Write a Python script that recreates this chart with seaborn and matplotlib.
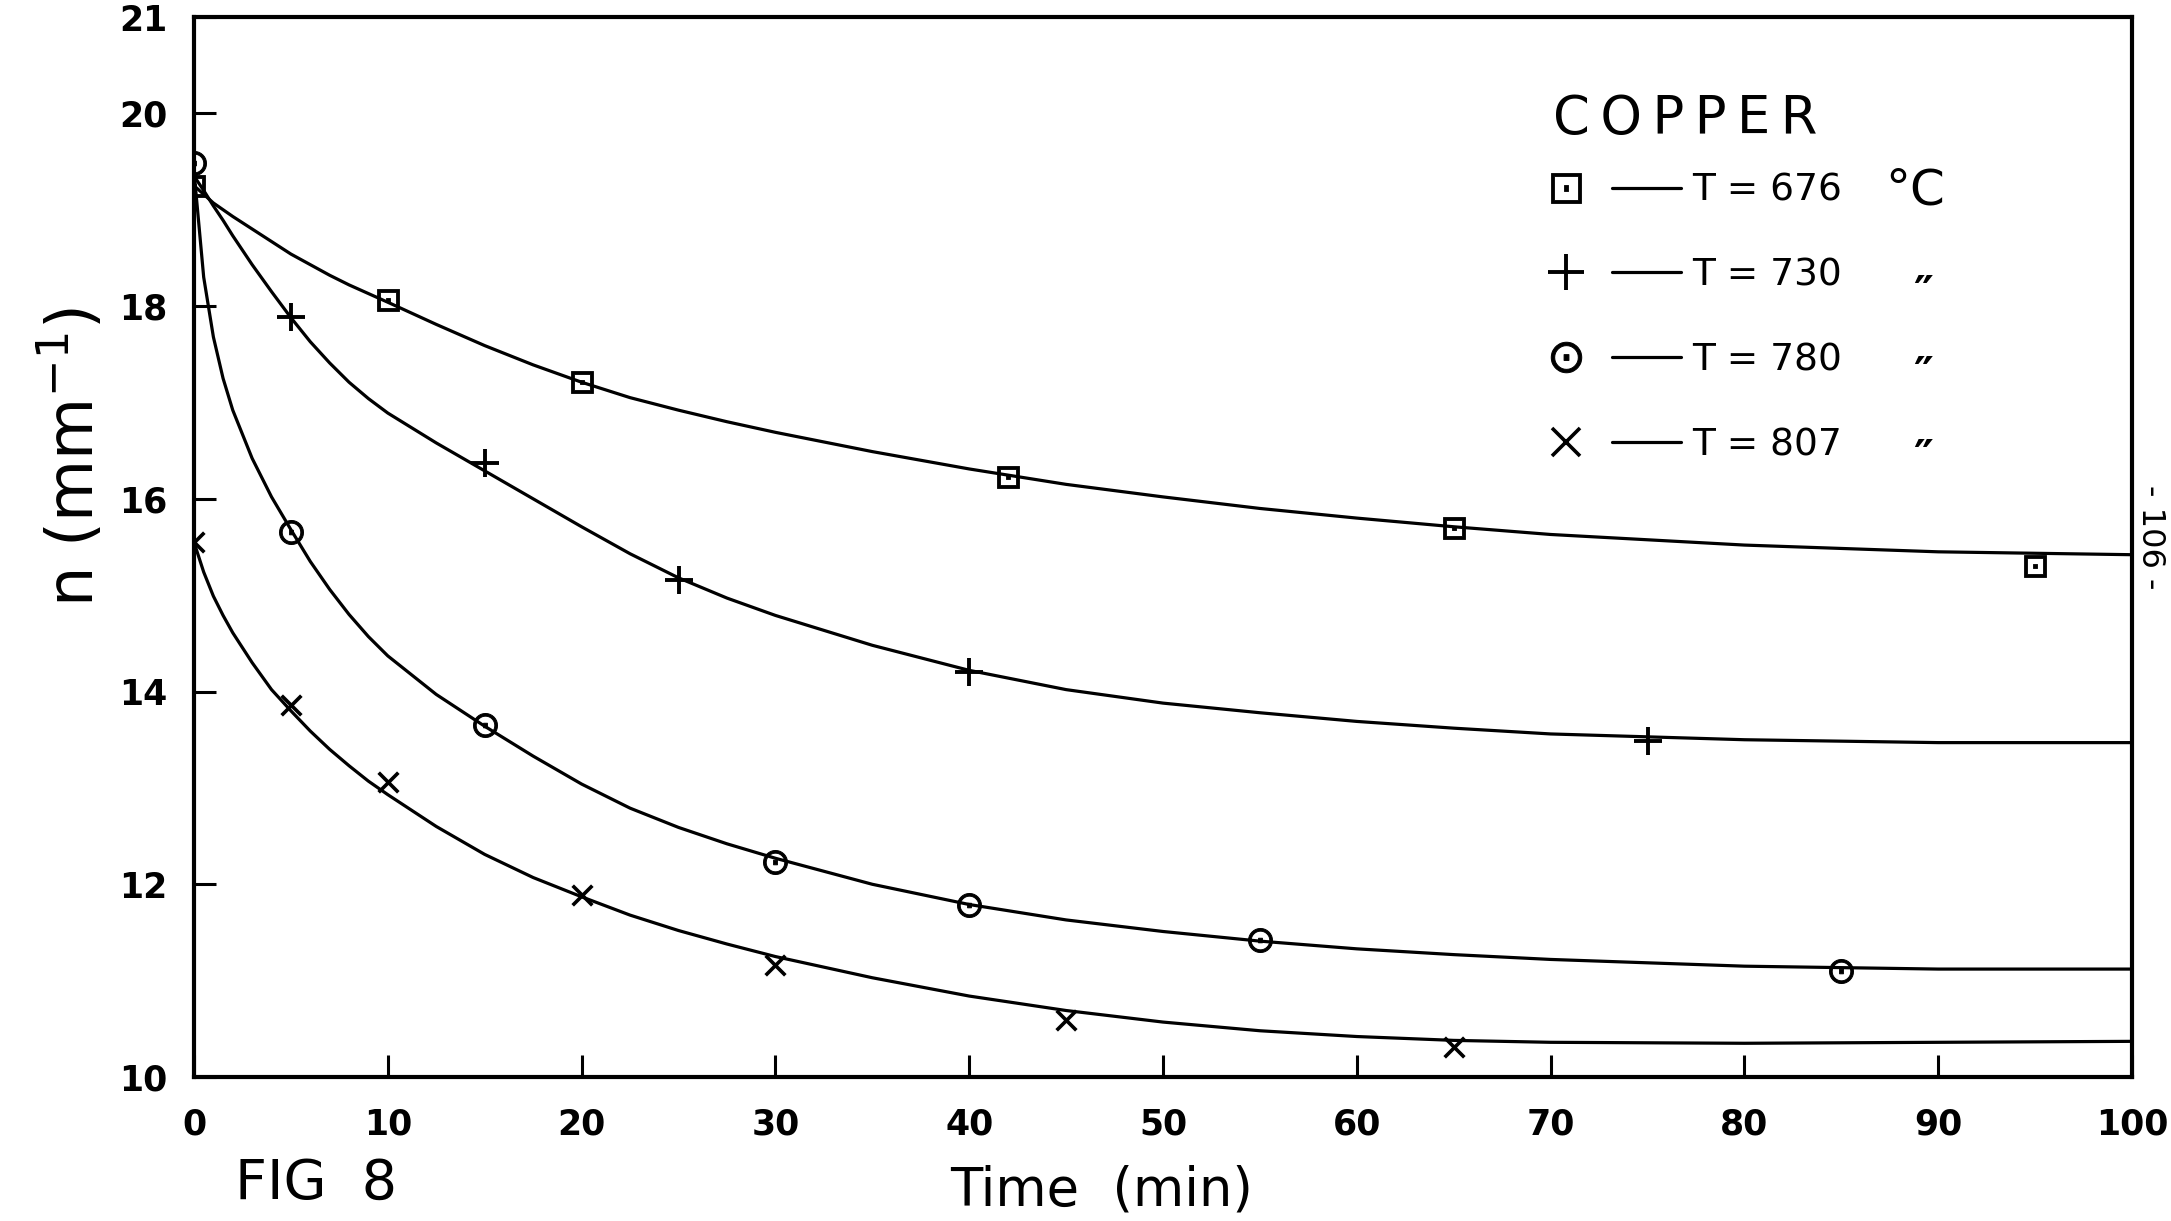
import matplotlib
matplotlib.use("Agg")
import matplotlib.pyplot as plt
import seaborn as sns
from matplotlib.lines import Line2D
from matplotlib.legend_handler import HandlerTuple

# Measured grain-size data (n in mm^-1) against annealing time (min)
time_676 = [0, 10, 20, 42, 65, 95]
n_676 = [19.25, 18.06, 17.21, 16.23, 15.70, 15.30]

time_730 = [5, 15, 25, 40, 75]
n_730 = [17.89, 16.37, 15.16, 14.20, 13.49]

time_780 = [0, 5, 15, 30, 40, 55, 85]
n_780 = [19.48, 15.66, 13.65, 12.23, 11.78, 11.42, 11.10]

time_807 = [0, 5, 10, 20, 30, 45, 65]
n_807 = [15.55, 13.86, 13.06, 11.89, 11.16, 10.59, 10.31]

# Hand-fitted curves, read at these times
curve_time = [0, 0.5, 1, 1.5, 2, 3, 4, 5, 6, 7, 8, 9, 10, 12.5, 15, 17.5, 20,
              22.5, 25, 27.5, 30, 35, 40, 45, 50, 55, 60, 65, 70, 80, 90, 100]
curve_676 = [19.25, 19.16, 19.07, 19.00, 18.93, 18.80, 18.67, 18.54, 18.43,
             18.32, 18.22, 18.13, 18.04, 17.81, 17.59, 17.39, 17.21, 17.05,
             16.92, 16.80, 16.69, 16.49, 16.31, 16.15, 16.02, 15.90, 15.80,
             15.71, 15.63, 15.52, 15.45, 15.42]
curve_730 = [19.35, 19.20, 19.04, 18.89, 18.73, 18.43, 18.15, 17.88, 17.63,
             17.41, 17.21, 17.04, 16.89, 16.58, 16.29, 16.00, 15.71, 15.43,
             15.18, 14.97, 14.79, 14.48, 14.22, 14.02, 13.88, 13.78, 13.69,
             13.62, 13.56, 13.50, 13.47, 13.47]
curve_780 = [19.40, 18.30, 17.68, 17.25, 16.92, 16.42, 16.02, 15.68, 15.35,
             15.06, 14.80, 14.57, 14.37, 13.97, 13.64, 13.33, 13.04, 12.79,
             12.59, 12.42, 12.27, 12.00, 11.79, 11.63, 11.51, 11.41, 11.33,
             11.27, 11.22, 11.15, 11.12, 11.12]
curve_807 = [15.55, 15.24, 14.99, 14.79, 14.61, 14.30, 14.02, 13.80, 13.59,
             13.40, 13.23, 13.07, 12.93, 12.60, 12.31, 12.07, 11.87, 11.68,
             11.52, 11.38, 11.25, 11.03, 10.84, 10.69, 10.57, 10.48, 10.42,
             10.38, 10.36, 10.35, 10.36, 10.37]

temperatures = ["676", "730", "780", "807"]
x_ticks = [0, 10, 20, 30, 40, 50, 60, 70, 80, 90, 100]
y_ticks = [10, 12, 14, 16, 18, 20, 21]

sns.set_theme(style="ticks", rc={
    "axes.edgecolor": "black", "xtick.color": "black", "ytick.color": "black",
    "text.color": "black", "axes.labelcolor": "black",
})
plt.rcParams["font.family"] = ["DejaVu Sans"]
plt.rcParams["mathtext.fontset"] = "dejavusans"

W, H = 2171, 1221
fig = plt.figure(figsize=(W / 100, H / 100), dpi=100)
ax = fig.add_axes([194 / W, 1 - 1077 / H, 1938 / W, 1060 / H])

series = [
    (time_676, n_676, curve_676, r"$\boxdot$", 230, 0.6),
    (time_730, n_730, curve_730, "+", 400, 2.8),
    (time_780, n_780, curve_780, r"$\odot$", 300, 0.7),
    (time_807, n_807, curve_807, "x", 200, 2.6),
]

for t, n, curve, marker, size, lw in series:
    sns.lineplot(x=curve_time, y=curve, color="black", linewidth=2.3,
                 sort=False, estimator=None, ax=ax, zorder=2)
    sns.scatterplot(x=t, y=n, marker=marker, s=size, color="black",
                    edgecolor="black", linewidth=lw, ax=ax, zorder=3)

ax.set_xlim(0, 100)
ax.set_ylim(10, 21)
ax.set_xticks(x_ticks)
ax.set_xticklabels([str(v) for v in x_ticks])
ax.set_yticks(y_ticks)
ax.set_yticklabels([str(v) for v in y_ticks])
ax.tick_params(direction="in", length=16, width=2.2, labelsize=25, pad=19,
               top=False, right=False, bottom=True, left=True)
ax.tick_params(axis="x", pad=22)
for lab in ax.get_xticklabels() + ax.get_yticklabels():
    lab.set_fontweight("bold")
for sp in ax.spines.values():
    sp.set_linewidth(3.0)
    sp.set_color("black")

ax.set_xlabel("Time  (min)", fontsize=38)
ax.xaxis.set_label_coords((1102 - 194) / 1938, (1077 - 1190) / 1060)
ax.xaxis.label.set_va("center")
ax.set_ylabel(r"n (mm$^{-1}$)", fontsize=46)
ax.yaxis.set_label_coords((72 - 194) / 1938, 0.585)
ax.yaxis.label.set_va("center")

fig.text(316 / W, 1 - 1184 / H, "FIG  8", fontsize=40, ha="center", va="center")
fig.text(2150 / W, 1 - 537 / H, "- 106 -", fontsize=23, rotation=-90,
         ha="center", va="center")

# Legend block: title, then marker, dash and temperature per row
ax.text(0.701, 0.904, "C\u2009O\u2009P\u2009P\u2009E\u2009R", fontsize=38,
        transform=ax.transAxes, ha="left", va="center")

key_markers = [(r"$\boxdot$", 22, 0.6), ("+", 26, 2.8), (r"$\odot$", 22, 0.7), ("x", 20, 2.6)]
handles = []
for m, ms, mlw in key_markers:
    mk = Line2D([], [], marker=m, markersize=ms, markeredgewidth=mlw,
                color="black", linestyle="none")
    ln = Line2D([], [], color="black", linewidth=2.3)
    handles.append((mk, ln))
leg = ax.legend(handles, [f"T = {t}" for t in temperatures],
                handler_map={tuple: HandlerTuple(ndivide=None, pad=0.33)},
                fontsize=27, loc="upper left", bbox_to_anchor=(0.690, 0.853),
                frameon=False, borderpad=0, borderaxespad=0,
                handlelength=4.0, handletextpad=0.3, labelspacing=1.3)

units = ["°C", "″", "″", "″"]
unit_x = [0.888, 0.892, 0.892, 0.892]
unit_y = [0.836, 0.755 - 0.018, 0.679 - 0.018, 0.601 - 0.018]
for u, xx, yy in zip(units, unit_x, unit_y):
    ax.text(xx, yy, u, fontsize=36 if u == "°C" else 32,
            fontweight="normal" if u == "°C" else "bold",
            transform=ax.transAxes, ha="center", va="center")

fig.savefig("out.png", dpi=100, facecolor="white")
